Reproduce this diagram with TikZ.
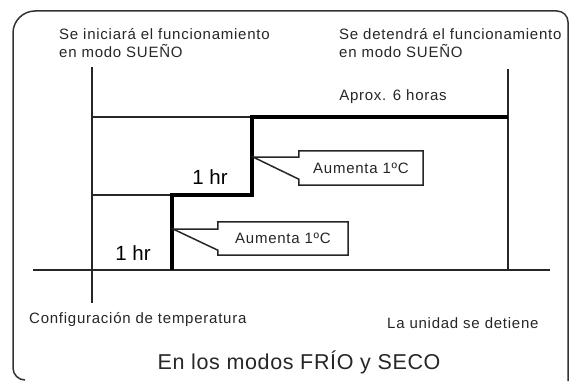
\documentclass[tikz,border=0pt]{standalone}
\usepackage{fontspec}
\setmainfont{Liberation Sans}
\newfontfamily\labfont[LetterSpace=5]{Liberation Sans}
\newfontfamily\titlefont[LetterSpace=3]{Liberation Sans}
\usetikzlibrary{calc}
\tikzset{frame/.style={line width=1.5bp,draw=black!80},axis/.style={line width=1.5bp,draw=black!85},stepline/.style={line width=3.6bp,draw=black},callout/.style={line width=1.5bp,draw=black!85,line join=miter},callbox/.style={inner sep=0pt,minimum height=34bp,font=\labfont\fontsize{15bp}{18bp}\selectfont,text=black!85},lab/.style={inner sep=0pt,align=left,font=\labfont\fontsize{15bp}{18bp}\selectfont,text=black!85},hr/.style={inner sep=0pt,font=\fontsize{20.5bp}{24bp}\selectfont,text=black}}

\begin{document}
\begin{tikzpicture}[x=1bp,y=1bp]
\useasboundingbox (0,0) rectangle (569,381);
\draw[frame] (25,1) .. controls (18.4,1) and (13,6.4) .. (13,13) -- (13,348) .. controls (13,360.1) and (22.9,370) .. (35,370) -- (557,370) .. controls (563.1,370) and (568,365.1) .. (568,359) -- (568,0);
\node[lab,anchor=west] (start) at (59,338) {Se iniciará el funcionamiento\\en modo SUEÑO};
\node[lab,anchor=west] (stop) at (339,338) {Se detendrá el funcionamiento\\en modo SUEÑO};
\draw[axis] (92,314) -- (92,78);
\draw[axis] (508,312) -- (508,111);
\draw[axis] (33,111) -- (550,111);
\draw[axis] (92,264) -- (252,264);
\draw[axis] (92,186) -- (172,186);
\draw[stepline] (172,111) -- (172,186) -- (252,186) -- (252,264) -- (508,264);
\node[lab] (span) at (393,284) {Aprox. 6 horas};
\node[hr] (hr2) at (210,204) {1 hr};
\node[hr] (hr1) at (133,128) {1 hr};
\node[callbox,minimum width=124bp] (c2) at (361,213) {Aumenta 1ºC};
\node[callbox,minimum width=130bp,minimum height=33bp] (c1) at (283,142.5) {Aumenta 1ºC};
\coordinate (t2) at (253,224);
\coordinate (t1) at (173,152);
\draw[callout] (t2) -- (c2.west|-t2) -- (c2.north west) -- (c2.north east) -- (c2.south east) -- (c2.south west) -- ($(c2.south west)+(0,6)$) -- cycle;
\draw[callout] (t1) -- (c1.west|-t1) -- (c1.north west) -- (c1.north east) -- (c1.south east) -- (c1.south west) -- ($(c1.south west)+(0,5)$) -- cycle;
\node[lab,anchor=west] (setp) at (29,61) {Configuración de temperatura};
\node[lab,anchor=west] (halt) at (387,58) {La unidad se detiene};
\node[inner sep=0pt,font=\titlefont\fontsize{21.5bp}{24bp}\selectfont,text=black!85] (title) at (299,19) {En los modos FRÍO y SECO};
\end{tikzpicture}
\end{document}
